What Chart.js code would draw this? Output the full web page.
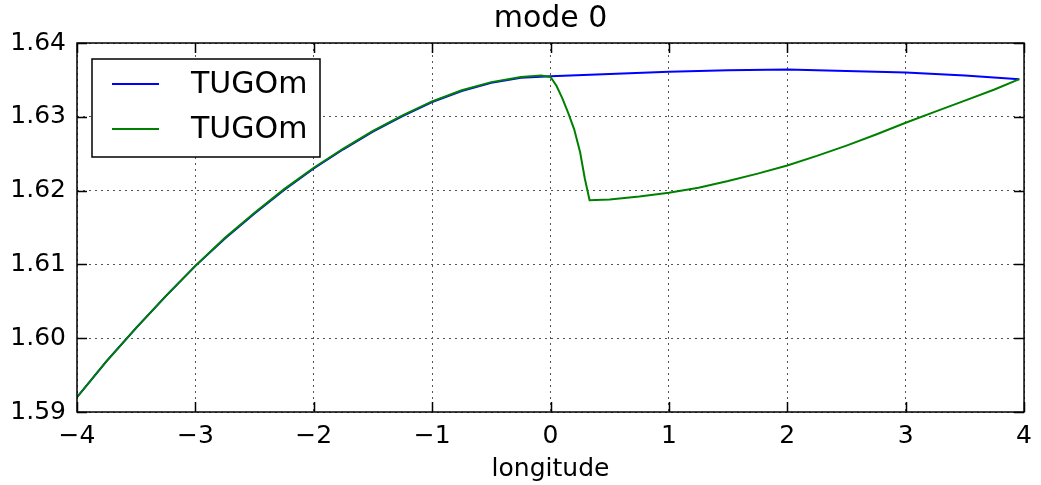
<!DOCTYPE html>
<html>
<head>
<meta charset="utf-8">
<title>mode 0</title>
<script src="https://cdn.jsdelivr.net/npm/chart.js@4/dist/chart.umd.min.js"></script>
<style>
  html, body { margin: 0; padding: 0; background: #fff; }
  canvas { display: block; }
</style>
</head>
<body>
<canvas id="modeChart" width="1041" height="485"></canvas>
<script>
// ──── data ─────────────────────────────────────────────────────
const lonBlue = [-4, -3.75, -3.5, -3.25, -3, -2.75, -2.5, -2.25, -2, -1.75, -1.5, -1.25, -1, -0.75, -0.5, -0.25, 0,
  0.5, 1, 1.5, 2, 2.5, 3, 3.5, 3.96];
const blueValues = [1.5920, 1.5969, 1.6014, 1.6057, 1.6098, 1.6135, 1.6169, 1.6201, 1.6230, 1.6256, 1.6280, 1.6301, 1.6320, 1.6335, 1.6346, 1.6353, 1.6355,
  1.6358, 1.6361, 1.6363, 1.6364, 1.6362, 1.6360, 1.6356, 1.6351];

const lonGreen = [-4, -3.75, -3.5, -3.25, -3, -2.75, -2.5, -2.25, -2, -1.75, -1.5, -1.25, -1, -0.75, -0.5, -0.25, -0.08,
  0, 0.05, 0.1, 0.15, 0.2, 0.25, 0.29, 0.33,
  0.5, 0.75, 1, 1.25, 1.5, 1.75, 2, 2.25, 2.5, 2.75, 3, 3.25, 3.5, 3.75, 3.96];
const greenValues = [1.5920, 1.5969, 1.6014, 1.6057, 1.6098, 1.6136, 1.6170, 1.6202, 1.6231, 1.6257, 1.6281, 1.6302, 1.6321, 1.6336, 1.6347, 1.6354, 1.6356,
  1.6354, 1.6342, 1.6325, 1.6305, 1.6283, 1.6252, 1.6216, 1.6187,
  1.6188, 1.6192, 1.6197, 1.6204, 1.6213, 1.6223, 1.6234, 1.6247, 1.6261, 1.6276, 1.6292, 1.6307, 1.6322, 1.6337, 1.6351];

const seriesLabels = ["TUGOm", "TUGOm"];
const xTicks = [-4, -3, -2, -1, 0, 1, 2, 3, 4];
const yTicks = [1.59, 1.60, 1.61, 1.62, 1.63, 1.64];

const FONT = "'DejaVu Sans', 'Liberation Sans', sans-serif";

const toPoints = (xs, ys) => xs.map((x, i) => ({ x, y: ys[i] }));

// ──── frame, inward ticks and boxed legend (matplotlib classic look) ────
const framePlugin = {
  id: "frame",
  afterDatasetsDraw(chart) {
    const { ctx, chartArea: a, scales } = chart;
    ctx.save();
    ctx.strokeStyle = "#000";
    ctx.lineWidth = 1.5;
    const tl = 10;
    xTicks.forEach((v) => {
      const px = Math.round(scales.x.getPixelForValue(v)) + 0.5;
      ctx.beginPath();
      ctx.moveTo(px, a.bottom); ctx.lineTo(px, a.bottom - tl);
      ctx.moveTo(px, a.top); ctx.lineTo(px, a.top + tl);
      ctx.stroke();
    });
    yTicks.forEach((v) => {
      const py = Math.round(scales.y.getPixelForValue(v)) + 0.5;
      ctx.beginPath();
      ctx.moveTo(a.left, py); ctx.lineTo(a.left + tl, py);
      ctx.moveTo(a.right, py); ctx.lineTo(a.right - tl, py);
      ctx.stroke();
    });
    ctx.strokeRect(a.left, a.top, a.right - a.left, a.bottom - a.top);

    // legend box
    const lx = a.left + 15, ly = a.top + 16, lw = 228, lh = 98;
    ctx.fillStyle = "#fff";
    ctx.fillRect(lx, ly, lw, lh);
    ctx.lineWidth = 1.5;
    ctx.strokeRect(lx, ly, lw, lh);
    ctx.font = "30px " + FONT;
    ctx.textBaseline = "middle";
    ctx.textAlign = "left";
    chart.data.datasets.forEach((ds, i) => {
      const cy = ly + 25 + i * 45;
      ctx.strokeStyle = ds.borderColor;
      ctx.lineWidth = 2;
      ctx.beginPath();
      ctx.moveTo(lx + 20, cy); ctx.lineTo(lx + 67, cy);
      ctx.stroke();
      ctx.fillStyle = "#000";
      ctx.fillText(ds.label, lx + 99, cy + 1);
    });
    ctx.restore();
  },
};

const gridOpts = { color: "#555", lineWidth: 1, drawTicks: false };
const borderOpts = { display: false, dash: [2, 4] };

new Chart(document.getElementById("modeChart").getContext("2d"), {
  type: "line",
  data: {
    datasets: [
      { label: seriesLabels[0], data: toPoints(lonBlue, blueValues), borderColor: "#0000ff", borderWidth: 2, pointRadius: 0, tension: 0, order: 1 },
      { label: seriesLabels[1], data: toPoints(lonGreen, greenValues), borderColor: "#008000", borderWidth: 2, pointRadius: 0, tension: 0, order: 0 },
    ],
  },
  options: {
    responsive: false,
    animation: false,
    devicePixelRatio: 1,
    layout: { padding: { left: 0, right: 13, top: 0, bottom: 0 } },
    plugins: {
      legend: { display: false },
      tooltip: { enabled: false },
      title: {
        display: true,
        fullSize: false,
        text: "mode 0",
        color: "#000",
        font: { family: FONT, size: 30, weight: "normal" },
        padding: { top: 1, bottom: 6 },
      },
    },
    scales: {
      x: {
        type: "linear",
        min: -4, max: 4,
        afterFit: (s) => { s.height = 73; },
        afterBuildTicks: (s) => { s.ticks = xTicks.map((v) => ({ value: v })); },
        ticks: {
          color: "#000",
          padding: 9,
          font: { family: FONT, size: 25 },
          callback: (v) => String(v).replace("-", "\u2212"),
        },
        grid: gridOpts,
        border: borderOpts,
        title: {
          display: true,
          text: "longitude",
          color: "#000",
          font: { family: FONT, size: 25 },
          padding: { top: 0, bottom: 1 },
        },
      },
      y: {
        min: 1.59, max: 1.64,
        afterFit: (s) => { s.width = 77; },
        afterBuildTicks: (s) => { s.ticks = yTicks.map((v) => ({ value: v })); },
        ticks: {
          color: "#000",
          padding: 11,
          font: { family: FONT, size: 25 },
          callback: (v) => Number(v).toFixed(2),
        },
        grid: gridOpts,
        border: borderOpts,
      },
    },
  },
  plugins: [framePlugin],
});
</script>
</body>
</html>
